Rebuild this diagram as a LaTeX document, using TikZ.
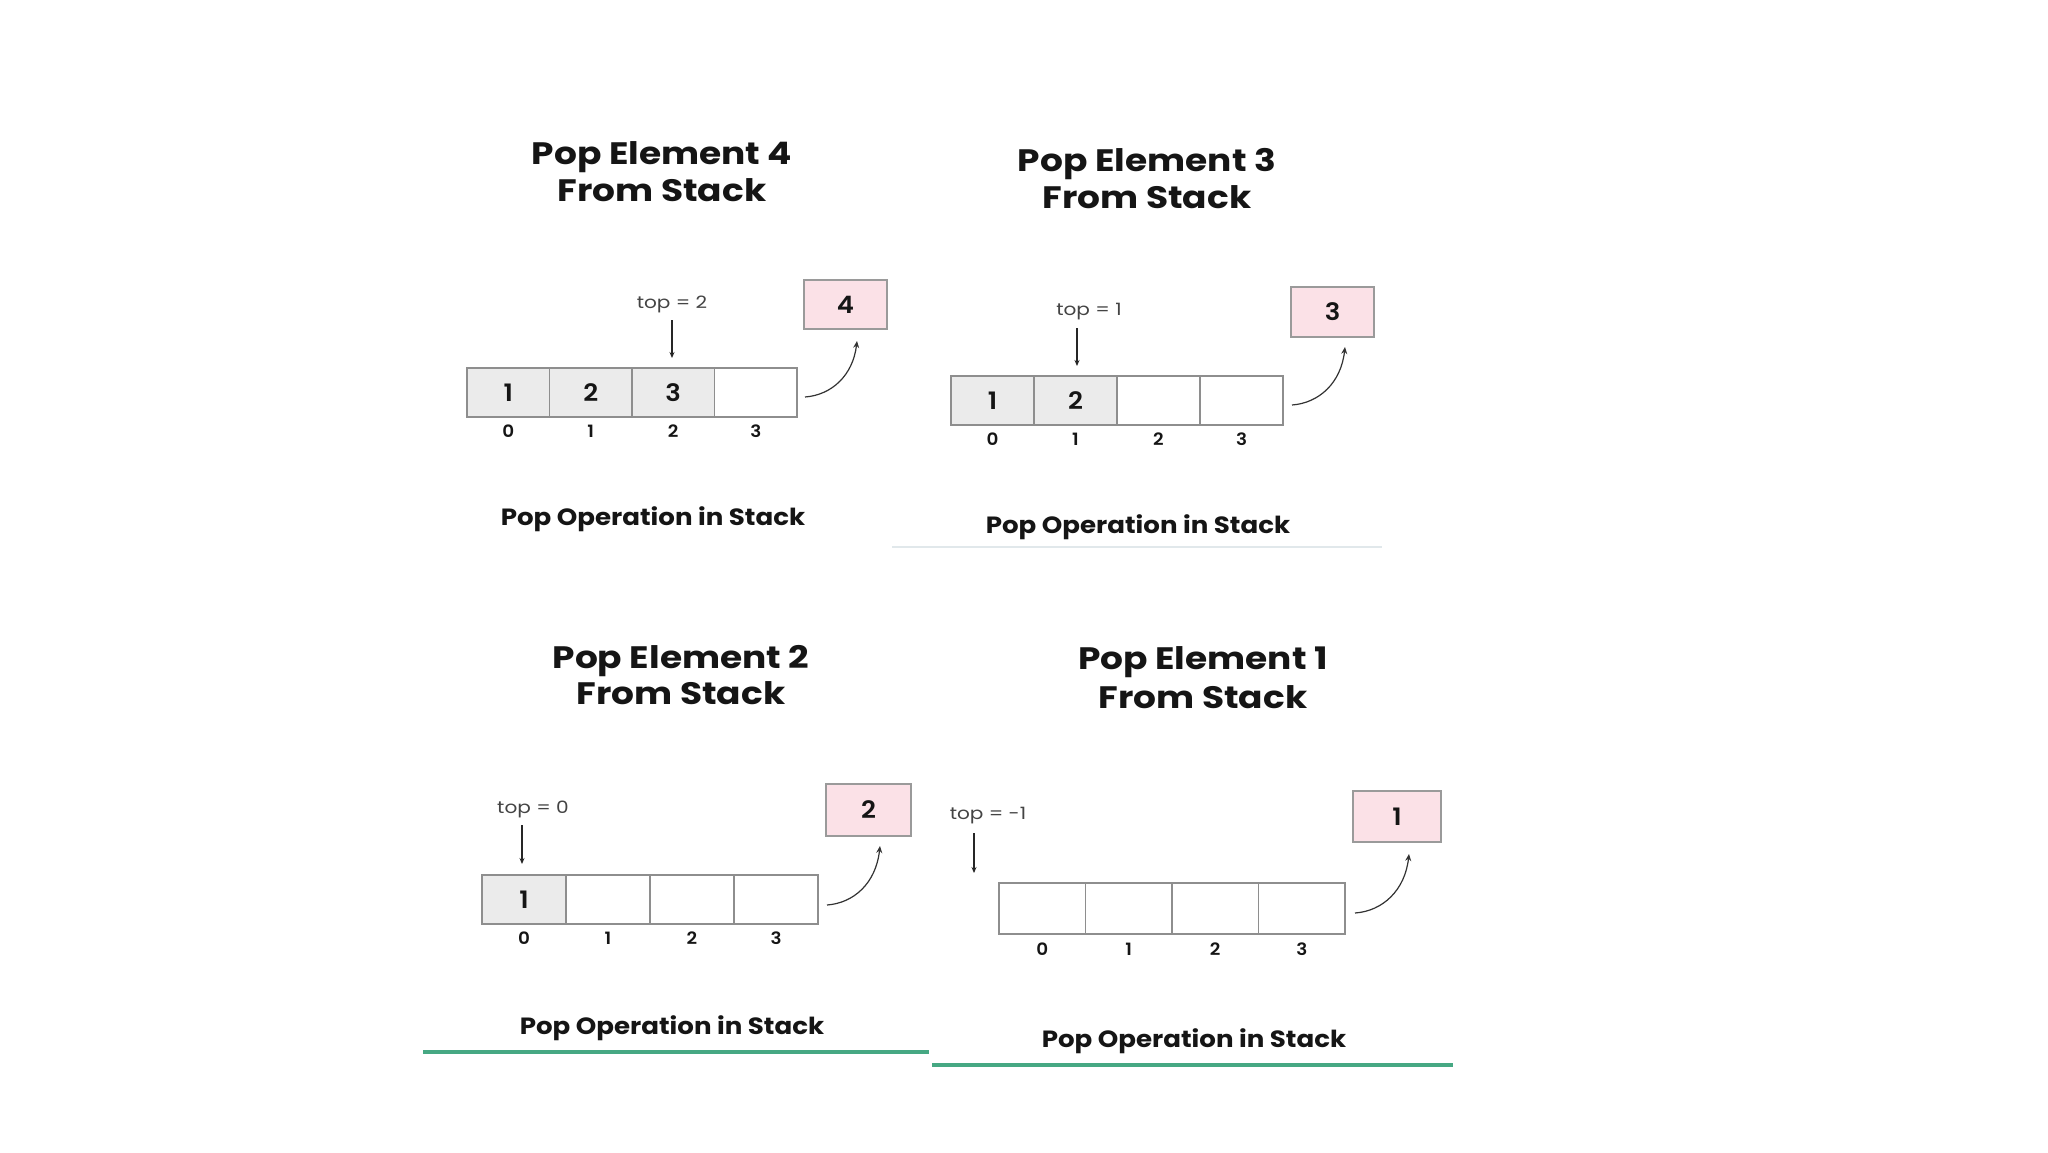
\documentclass[tikz,border=0pt]{standalone}
\usepackage{fontspec}
\setmainfont{Poppins}
\newfontfamily\psemi[FakeStretch=1.08]{Poppins SemiBold}
\newfontfamily\pbold[FakeStretch=1.11]{Poppins Bold}
\newfontfamily\ptitle[FakeStretch=1.16]{Poppins Bold}
\newfontfamily\preg[FakeStretch=1.18]{Poppins}
\usetikzlibrary{arrows.meta}
\definecolor{cellgray}{HTML}{EBEBEB}
\definecolor{cellline}{HTML}{8E8E8E}
\definecolor{popfill}{HTML}{FBE1E7}
\definecolor{popline}{HTML}{9A9A9A}
\definecolor{greenline}{HTML}{46A883}
\definecolor{faintline}{HTML}{E1E8EB}
\definecolor{toptext}{HTML}{444444}
\definecolor{inktext}{HTML}{151515}
\tikzset{
  cellbox/.style 2 args={draw=cellline, line width=1.5pt, minimum width=#1, minimum height=#2,
    inner sep=0pt, outer sep=0pt, font=\psemi\fontsize{24}{24}\selectfont, text=inktext},
  fullcell/.style={fill=cellgray},
  popbox/.style 2 args={draw=popline, line width=1.5pt, fill=popfill, minimum width=#1, minimum height=#2,
    inner sep=0pt, font=\psemi\fontsize{24}{24}\selectfont, text=inktext},
  idxlabel/.style={font=\psemi\fontsize{17}{17}\selectfont, text=inktext, inner sep=0pt},
  toplabel/.style={font=\preg\fontsize{17}{17}\selectfont, text=toptext, anchor=base, inner sep=0pt},
  titletext/.style={font=\ptitle\fontsize{31}{37}\selectfont, text=inktext, anchor=base, inner sep=0pt},
  captiontext/.style={font=\pbold\fontsize{23.5}{24}\selectfont, text=inktext, anchor=base, inner sep=0pt},
  ptr/.style={draw=black!85, line width=1.1pt, -{Stealth[length=6pt,width=5pt]}},
  poparrow/.style={draw=black!80, line width=1.2pt, -{Stealth[length=7pt,width=6pt]}},
}
\begin{document}
\begin{tikzpicture}[x=1pt,y=-1pt]
\path[use as bounding box, fill=white] (0,0) rectangle (2048,1152);

% ---------------- Panel 1 : pop 4 ----------------
\node[titletext] (t1a) at (662,164) {Pop Element 4};
\node[titletext] (t1b) at (662,201) {From Stack};
\node[cellbox={82.5pt}{49pt}, fullcell] (c10) at (508.25,392.5) {1};
\node[cellbox={82.5pt}{49pt}, fullcell] (c11) at (590.75,392.5) {2};
\node[cellbox={82.5pt}{49pt}, fullcell] (c12) at (673.25,392.5) {3};
\node[cellbox={82.5pt}{49pt}] (c13) at (755.75,392.5) {};
\foreach \i/\x in {0/508.25,1/590.75,2/673.25,3/755.75}
  \node[idxlabel] (i1\i) at (\x,431) {\i};
\node[toplabel] (top1) at (672,308) {top = 2};
\coordinate (a1s) at (672,320);
\coordinate (a1e) at (672,358);
\draw[ptr] (a1s) -- (a1e);
\node[popbox={83pt}{49pt}] (p1) at (845.5,304.5) {4};
\coordinate (q1s) at (805,397);
\coordinate (q1e) at (857,341);
\draw[poparrow] (q1s) .. controls (832,395) and (853,375) .. (q1e);
\node[captiontext] (cap1) at (653,525) {Pop Operation in Stack};

% ---------------- Panel 2 : pop 3 ----------------
\node[titletext] (t2a) at (1147,171) {Pop Element 3};
\node[titletext] (t2b) at (1147,208) {From Stack};
\node[cellbox={83pt}{49pt}, fullcell] (c20) at (992.5,400.5) {1};
\node[cellbox={83pt}{49pt}, fullcell] (c21) at (1075.5,400.5) {2};
\node[cellbox={83pt}{49pt}] (c22) at (1158.5,400.5) {};
\node[cellbox={83pt}{49pt}] (c23) at (1241.5,400.5) {};
\foreach \i/\x in {0/992.5,1/1075.5,2/1158.5,3/1241.5}
  \node[idxlabel] (i2\i) at (\x,439) {\i};
\node[toplabel] (top2) at (1089,315) {top = 1};
\coordinate (a2s) at (1077,328);
\coordinate (a2e) at (1077,366);
\draw[ptr] (a2s) -- (a2e);
\node[popbox={83pt}{50pt}] (p2) at (1332.5,312) {3};
\coordinate (q2s) at (1292,405);
\coordinate (q2e) at (1345,347);
\draw[poparrow] (q2s) .. controls (1319,403) and (1341,383) .. (q2e);
\node[captiontext] (cap2) at (1138,533) {Pop Operation in Stack};
\coordinate (f2a) at (892,547);
\coordinate (f2b) at (1382,547);
\draw[faintline, line width=2pt] (f2a) -- (f2b);

% ---------------- Panel 3 : pop 2 ----------------
\node[titletext] (t3a) at (681,668) {Pop Element 2};
\node[titletext] (t3b) at (681,704) {From Stack};
\node[cellbox={84pt}{49pt}, fullcell] (c30) at (524,899.5) {1};
\node[cellbox={84pt}{49pt}] (c31) at (608,899.5) {};
\node[cellbox={84pt}{49pt}] (c32) at (692,899.5) {};
\node[cellbox={84pt}{49pt}] (c33) at (776,899.5) {};
\foreach \i/\x in {0/524,1/608,2/692,3/776}
  \node[idxlabel] (i3\i) at (\x,938) {\i};
\node[toplabel] (top3) at (533,813) {top = 0};
\coordinate (a3s) at (522,825);
\coordinate (a3e) at (522,864);
\draw[ptr] (a3s) -- (a3e);
\node[popbox={85pt}{52pt}] (p3) at (868.5,810) {2};
\coordinate (q3s) at (827,905);
\coordinate (q3e) at (880,846);
\draw[poparrow] (q3s) .. controls (854,903) and (876,883) .. (q3e);
\node[captiontext] (cap3) at (672,1034) {Pop Operation in Stack};
\coordinate (g3a) at (423,1052);
\coordinate (g3b) at (929,1052);
\draw[greenline, line width=3.5pt] (g3a) -- (g3b);

% ---------------- Panel 4 : pop 1 ----------------
\node[titletext] (t4a) at (1203,669) {Pop Element 1};
\node[titletext] (t4b) at (1203,708) {From Stack};
\node[cellbox={86.5pt}{51pt}] (c40) at (1042.25,908.5) {};
\node[cellbox={86.5pt}{51pt}] (c41) at (1128.75,908.5) {};
\node[cellbox={86.5pt}{51pt}] (c42) at (1215.25,908.5) {};
\node[cellbox={86.5pt}{51pt}] (c43) at (1301.75,908.5) {};
\foreach \i/\x in {0/1042.25,1/1128.75,2/1215.25,3/1301.75}
  \node[idxlabel] (i4\i) at (\x,949) {\i};
\node[toplabel] (top4) at (988,819) {top = -1};
\coordinate (a4s) at (974,833);
\coordinate (a4e) at (974,873);
\draw[ptr] (a4s) -- (a4e);
\node[popbox={88pt}{51pt}] (p4) at (1397,816.5) {1};
\coordinate (q4s) at (1355,913);
\coordinate (q4e) at (1409,854);
\draw[poparrow] (q4s) .. controls (1383,911) and (1405,890) .. (q4e);
\node[captiontext] (cap4) at (1194,1047) {Pop Operation in Stack};
\coordinate (g4a) at (932,1065);
\coordinate (g4b) at (1453,1065);
\draw[greenline, line width=3.5pt] (g4a) -- (g4b);
\end{tikzpicture}
\end{document}
